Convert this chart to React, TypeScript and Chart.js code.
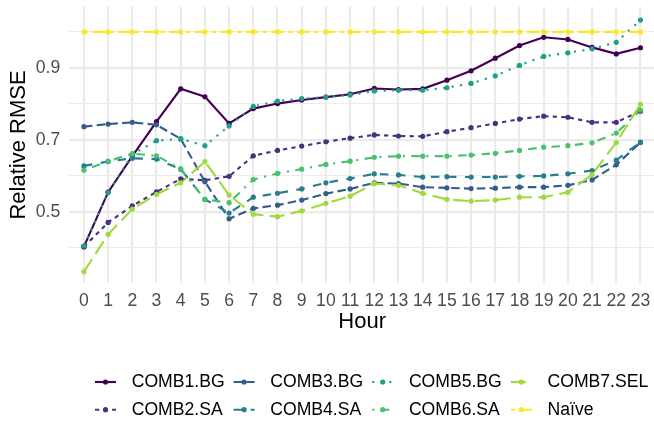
import React, { useEffect, useRef } from "react";
import { Chart, registerables } from "chart.js";

Chart.register(...registerables);

// Hour of day on the x axis
const HOURS = [0, 1, 2, 3, 4, 5, 6, 7, 8, 9, 10, 11, 12, 13, 14, 15, 16, 17, 18, 19, 20, 21, 22, 23];

// Relative RMSE per combination method
const COMB1_BG = [0.404, 0.555, 0.655, 0.751, 0.842, 0.820, 0.746, 0.787, 0.801, 0.811, 0.819, 0.827, 0.843, 0.840, 0.842, 0.866, 0.892, 0.927, 0.962, 0.985, 0.979, 0.957, 0.939, 0.956];
const COMB2_SA = [0.403, 0.471, 0.517, 0.556, 0.592, 0.588, 0.599, 0.656, 0.671, 0.683, 0.695, 0.705, 0.714, 0.711, 0.710, 0.723, 0.734, 0.746, 0.758, 0.766, 0.763, 0.749, 0.749, 0.780];
const COMB3_BG = [0.737, 0.744, 0.749, 0.742, 0.703, 0.584, 0.481, 0.510, 0.519, 0.533, 0.551, 0.564, 0.581, 0.579, 0.569, 0.567, 0.565, 0.566, 0.569, 0.569, 0.574, 0.589, 0.631, 0.693];
const COMB4_SA = [0.628, 0.640, 0.649, 0.647, 0.619, 0.535, 0.497, 0.541, 0.552, 0.564, 0.581, 0.593, 0.606, 0.603, 0.597, 0.598, 0.597, 0.597, 0.599, 0.600, 0.606, 0.615, 0.644, 0.694];
const COMB5_BG = [0.406, 0.554, 0.660, 0.698, 0.703, 0.684, 0.739, 0.793, 0.808, 0.815, 0.819, 0.825, 0.836, 0.838, 0.838, 0.845, 0.857, 0.878, 0.907, 0.932, 0.942, 0.953, 0.971, 1.033];
const COMB6_SA = [0.616, 0.641, 0.662, 0.656, 0.620, 0.535, 0.526, 0.590, 0.607, 0.619, 0.632, 0.641, 0.652, 0.655, 0.655, 0.655, 0.658, 0.663, 0.671, 0.680, 0.684, 0.692, 0.719, 0.783];
const COMB7_SEL = [0.334, 0.438, 0.508, 0.549, 0.581, 0.640, 0.547, 0.494, 0.487, 0.503, 0.524, 0.544, 0.579, 0.574, 0.552, 0.535, 0.530, 0.533, 0.541, 0.541, 0.555, 0.604, 0.693, 0.799];
const NAIVE = [1, 1, 1, 1, 1, 1, 1, 1, 1, 1, 1, 1, 1, 1, 1, 1, 1, 1, 1, 1, 1, 1, 1, 1];

const SERIES_NAMES = ["COMB1.BG", "COMB2.SA", "COMB3.BG", "COMB4.SA", "COMB5.BG", "COMB6.SA", "COMB7.SEL", "Naïve"];
const SERIES_VALUES = [COMB1_BG, COMB2_SA, COMB3_BG, COMB4_SA, COMB5_BG, COMB6_SA, COMB7_SEL, NAIVE];

// Gridlines every 0.1, labels on every other one
const Y_GRID = [0.4, 0.5, 0.6, 0.7, 0.8, 0.9, 1.0];
const Y_LABELS = [0.5, 0.7, 0.9];

// Styling (viridis palette, R-style line types in line-width units)
const SERIES_COLORS = ["#440154", "#46337E", "#365C8D", "#277F8E", "#1FA187", "#4AC16D", "#9FDA3A", "#FDE725"];
const LINE_W = 2.13;
const DASH_PATTERNS: number[][] = [[], [2, 2], [4, 2], [4, 4], [1, 3], [1, 3, 4, 3], [7, 3], [2, 2, 6, 2]];
const SERIES_DASH = DASH_PATTERNS.map((p) => p.map((u) => u * LINE_W));
const FONT = '"Liberation Sans", Arial, Helvetica, sans-serif';
const POINT_R = 2.6;
const TICK_FONT = 17.6;
const TITLE_FONT = 22;

const isLabelled = (v: number) => Y_LABELS.some((l) => Math.abs(l - v) < 1e-9);

// Two-row legend below the plot, filled column by column
const LEGEND = { left: 95, top: 382, colW: 138.6, rowH: 27.7, keyW: 21, textDx: 36.7, fontSize: 17.6 };

const bottomLegend = {
  id: "bottomLegend",
  afterDraw(chart: any) {
    const ctx: CanvasRenderingContext2D = chart.ctx;
    ctx.save();
    SERIES_NAMES.forEach((name, i) => {
      const col = Math.floor(i / 2);
      const row = i % 2;
      const x = LEGEND.left + col * LEGEND.colW;
      const y = LEGEND.top + row * LEGEND.rowH;
      ctx.strokeStyle = SERIES_COLORS[i];
      ctx.lineWidth = LINE_W;
      ctx.setLineDash(SERIES_DASH[i]);
      ctx.beginPath();
      ctx.moveTo(x, y);
      ctx.lineTo(x + LEGEND.keyW, y);
      ctx.stroke();
      ctx.setLineDash([]);
      ctx.fillStyle = SERIES_COLORS[i];
      ctx.beginPath();
      ctx.arc(x + LEGEND.keyW / 2, y, POINT_R, 0, Math.PI * 2);
      ctx.fill();
      ctx.fillStyle = "#000000";
      ctx.font = `${LEGEND.fontSize}px ${FONT}`;
      ctx.textAlign = "left";
      ctx.textBaseline = "middle";
      ctx.fillText(name, x + LEGEND.textDx, y);
    });
    ctx.restore();
  },
};

export default function App() {
  const canvasRef = useRef<HTMLCanvasElement>(null);

  useEffect(() => {
    const canvas = canvasRef.current;
    if (!canvas) return;

    const lineSets = SERIES_NAMES.map((name, i) => ({
      label: name,
      data: HOURS.map((h, j) => ({ x: h, y: SERIES_VALUES[i][j] })),
      borderColor: SERIES_COLORS[i],
      borderWidth: LINE_W,
      borderDash: SERIES_DASH[i],
      pointRadius: 0,
      tension: 0,
      fill: false,
      order: 100 - i,
    }));
    const pointSets = SERIES_NAMES.map((name, i) => ({
      label: name + " points",
      data: HOURS.map((h, j) => ({ x: h, y: SERIES_VALUES[i][j] })),
      showLine: false,
      pointRadius: POINT_R,
      pointBackgroundColor: SERIES_COLORS[i],
      pointBorderWidth: 0,
      order: 50 - i,
    }));

    const chart = new Chart(canvas, {
      type: "line",
      data: { datasets: [...lineSets, ...pointSets] as any },
      options: {
        responsive: false,
        animation: false,
        layout: { padding: { top: 6.7, left: 0, right: 0, bottom: 88 } },
        plugins: { legend: { display: false }, tooltip: { enabled: false } },
        scales: {
          x: {
            type: "linear",
            min: -0.6,
            max: 23.6,
            afterBuildTicks: (s: any) => {
              s.ticks = HOURS.map((v) => ({ value: v }));
            },
            afterFit: (s: any) => {
              s.height = 52.7;
              s.paddingLeft = 0;
              s.paddingRight = 0;
            },
            ticks: {
              autoSkip: false,
              maxRotation: 0,
              padding: 7,
              color: "#4D4D4D",
              font: { family: FONT, size: TICK_FONT },
              callback: (v: any) => String(v),
            },
            grid: { color: "#EBEBEB", lineWidth: LINE_W, drawTicks: false },
            border: { display: false },
            title: {
              display: true,
              text: "Hour",
              color: "#000000",
              font: { family: FONT, size: TITLE_FONT },
              padding: { top: 0, bottom: 0.5 },
            },
          },
          y: {
            type: "linear",
            min: 0.302,
            max: 1.07,
            afterBuildTicks: (s: any) => {
              s.ticks = Y_GRID.map((v) => ({ value: v }));
            },
            afterFit: (s: any) => {
              s.width = 69.4;
              s.paddingTop = 0;
              s.paddingBottom = 0;
            },
            ticks: {
              padding: 9.2,
              color: "#4D4D4D",
              font: { family: FONT, size: TICK_FONT },
              callback: (v: any) => (isLabelled(Number(v)) ? Number(v).toFixed(1) : ""),
            },
            grid: {
              color: "#EBEBEB",
              lineWidth: (c: any) => (c.tick && isLabelled(c.tick.value) ? LINE_W : LINE_W / 2),
              drawTicks: false,
            },
            border: { display: false },
            title: {
              display: true,
              text: "Relative RMSE",
              color: "#000000",
              font: { family: FONT, size: TITLE_FONT },
              padding: { top: 5.8, bottom: 0 },
            },
          },
        },
      } as any,
      plugins: [bottomLegend],
    });

    return () => chart.destroy();
  }, []);

  return (
    <div
      style={{
        position: "fixed",
        left: 0,
        top: 0,
        width: 654,
        height: 424,
        overflow: "hidden",
        background: "#ffffff",
      }}
    >
      <canvas ref={canvasRef} width={659} height={424} style={{ width: "659px", height: "424px" }} />
    </div>
  );
}
